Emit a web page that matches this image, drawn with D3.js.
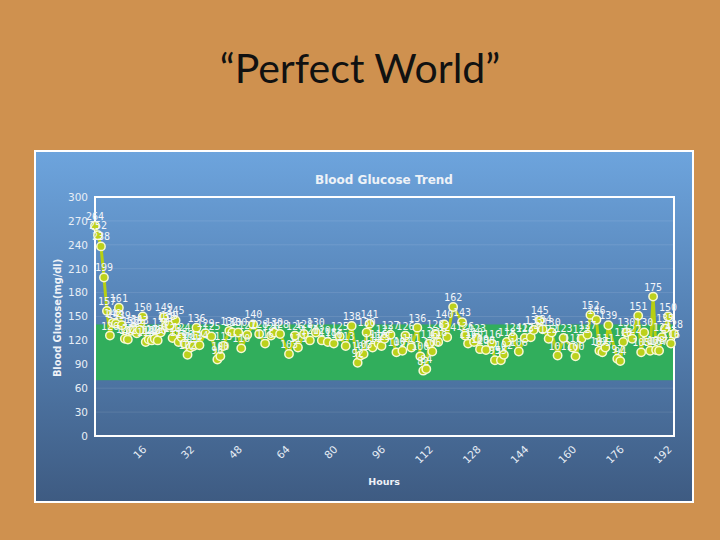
<!DOCTYPE html>
<html><head><meta charset="utf-8">
<script src="https://cdn.jsdelivr.net/npm/d3@7/dist/d3.min.js"></script>
<style>html,body{margin:0;padding:0;background:#CF914F}svg{display:block}</style>
</head><body><svg id="c" width="720" height="540"></svg>
<script>
const slideTitle = "\u201CPerfect World\u201D";
const chartTitle = "Blood Glucose Trend";
const yTitle = "Blood Glucose(mg/dl)";
const xTitle = "Hours";
const hours = [0,1,2,3,4,5,6,7,8,9,10,11,12,13,14,15,16,17,18,19,20,21,22,23,24,25,26,27,28,29,30,31,32,33,34,35,37,39,41,42,43,45,46,48,49,51,53,55,57,59,60,62,65,67,68,70,72,74,76,78,80,82,84,86,88,89,90,91,92,93,95,96,97,99,101,103,104,106,108,109,110,111,112,113,114,115,117,118,120,123,124,125,127,128,129,131,133,134,136,137,138,140,142,144,146,147,149,150,152,153,155,157,160,161,163,165,166,168,169,170,171,172,175,176,177,178,180,182,183,184,186,187,188,189,190,191,192,193,194];
const glucose = [264,252,238,199,157,126,142,141,161,139,122,121,132,134,129,133,150,118,121,120,122,120,130,149,138,139,123,145,118,124,116,102,111,113,136,114,129,125,96,100,113,132,130,130,110,127,140,128,116,126,130,128,103,126,111,128,120,130,120,118,116,125,113,138,92,101,103,130,141,111,116,113,122,127,105,107,126,111,136,100,82,84,116,106,128,118,140,124,162,143,126,116,118,123,109,108,116,95,95,102,118,124,106,123,124,133,145,134,122,130,101,123,111,100,122,127,152,146,107,105,111,139,97,94,118,130,122,151,105,130,107,175,108,107,124,135,150,116,128];
const yTicks = [0,30,60,90,120,150,180,210,240,270,300];
const xTicks = [16,32,48,64,80,96,112,128,144,160,176,192];
const targetRange = [70,140];

const svg = d3.select('#c');
svg.append('rect').attr('width',720).attr('height',540).attr('fill','#CF914F');
svg.append('text').attr('x',360).attr('y',83).attr('text-anchor','middle')
  .attr('font-family','Lato, "Open Sans", sans-serif').attr('font-size',41).attr('fill','#111')
  .text(slideTitle);

const defs = svg.append('defs');
const g = defs.append('linearGradient').attr('id','bg').attr('x1',0).attr('y1',0).attr('x2',0).attr('y2',1);
g.append('stop').attr('offset',0).attr('stop-color','#6DA4DD');
g.append('stop').attr('offset',0.45).attr('stop-color','#5683B6');
g.append('stop').attr('offset',1).attr('stop-color','#3E5B82');

svg.append('rect').attr('x',34).attr('y',150).attr('width',660).attr('height',353).attr('fill','#fff');
svg.append('rect').attr('x',36).attr('y',152).attr('width',656).attr('height',349).attr('fill','url(#bg)');

const L=95,R=674,T=197,B=436;
const x = d3.scaleLinear().domain([0,194]).range([L,R]);
const y = d3.scaleLinear().domain([0,300]).range([B,T]);

// gridlines
svg.append('g').selectAll('line').data(yTicks).join('line')
  .attr('x1',L).attr('x2',R).attr('y1',d=>y(d)).attr('y2',d=>y(d))
  .attr('stroke','rgba(255,255,255,0.10)').attr('stroke-width',1);

// target band
svg.append('rect').attr('x',L).attr('width',R-L)
  .attr('y',y(targetRange[1])).attr('height',y(targetRange[0])-y(targetRange[1]))
  .attr('fill','#31AE5C');

// plot border
svg.append('rect').attr('x',L).attr('y',T).attr('width',R-L).attr('height',B-T)
  .attr('fill','none').attr('stroke','#fff').attr('stroke-width',2);

// axes
const ya = svg.append('g').attr('transform',`translate(${L-5},0)`)
  .call(d3.axisLeft(y).tickValues(yTicks).tickSize(0).tickPadding(2));
ya.select('.domain').remove();
ya.selectAll('text').attr('font-family','"DejaVu Sans", Verdana, sans-serif').attr('font-size',10.5).attr('fill','#E8EEF6');

const xa = svg.append('g').attr('transform',`translate(0,${B})`)
  .call(d3.axisBottom(x).tickValues(xTicks).tickSize(0));
xa.select('.domain').remove();
xa.selectAll('text').attr('font-family','"DejaVu Sans", Verdana, sans-serif').attr('font-size',10.5).attr('fill','#E8EEF6')
  .attr('text-anchor','end').attr('dy',0).attr('y',0)
  .attr('transform','translate(4,14) rotate(-45)');

svg.append('text').attr('x',384).attr('y',184).attr('text-anchor','middle')
  .attr('font-family','"DejaVu Sans", Verdana, sans-serif').attr('font-weight','bold').attr('font-size',12).attr('fill','#EEF2F7')
  .text(chartTitle);
svg.append('text').attr('x',384).attr('y',485).attr('text-anchor','middle')
  .attr('font-family','"DejaVu Sans", Verdana, sans-serif').attr('font-weight','bold').attr('font-size',9.5).attr('fill','#EEF2F7')
  .text(xTitle);
svg.append('text').attr('transform','translate(61,318) rotate(-90)').attr('text-anchor','middle')
  .attr('font-family','"DejaVu Sans", Verdana, sans-serif').attr('font-weight','bold').attr('font-size',9.8).attr('fill','#EEF2F7')
  .text(yTitle);

const data = hours.map((h,i)=>({h, v:glucose[i]}));
svg.append('path').datum(data)
  .attr('d', d3.line().x(d=>x(d.h)).y(d=>y(d.v)))
  .attr('fill','none').attr('stroke','#B7CF12').attr('stroke-width',3).attr('stroke-linejoin','round');

svg.append('g').selectAll('circle').data(data).join('circle')
  .attr('cx',d=>x(d.h)).attr('cy',d=>y(d.v)).attr('r',4.2)
  .attr('fill','#BCD11C').attr('stroke','#F7F9D2').attr('stroke-width',1.5);

svg.append('g').selectAll('text').data(data).join('text')
  .attr('x',d=>x(d.h)).attr('y',d=>y(d.v)-6).attr('text-anchor','middle')
  .attr('font-family','"DejaVu Sans Mono", "DejaVu Sans", monospace').attr('font-size',10).attr('fill','#F2F5F9')
  .text(d=>d.v);
</script></body></html>
